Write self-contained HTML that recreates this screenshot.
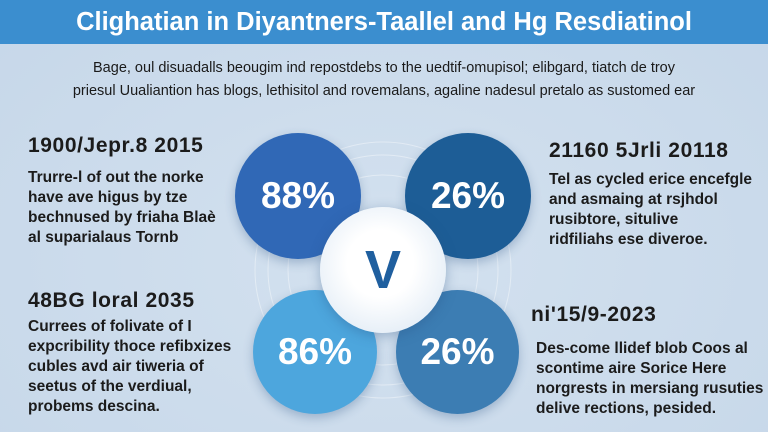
<!DOCTYPE html>
<html><head><style>
body{margin:0;width:768px;height:432px;overflow:hidden;background:radial-gradient(ellipse at 50% 60%,#d3e1ef,#c6d7e9);font-family:"Liberation Sans",sans-serif;position:relative}
.hdr{position:absolute;left:0;top:0;width:768px;height:44px;background:#3b8ecf;color:#fff;font-size:25.5px;font-weight:bold;text-align:center;line-height:44px}
.sub{position:absolute;top:57px;width:768px;text-align:center;font-size:14.5px;line-height:23px;color:#1a1a1a}
.t{position:absolute;color:#1b1b1b;font-weight:bold}
.h{font-size:21px;letter-spacing:.6px}
.b{font-size:15.5px;line-height:20px}
.c{position:absolute;border-radius:50%;color:#fff;font-weight:bold;font-size:37px;display:flex;align-items:center;justify-content:center;box-shadow:0 4px 10px rgba(40,80,130,.3)}
</style></head><body>
<div class="hdr">Clighatian in Diyantners-Taallel and Hg Resdiatinol</div>
<div class="sub">Bage, oul disuadalls beougim ind repostdebs to the uedtif-omupisol; elibgard, tiatch de troy<br>priesul Uualiantion has blogs, lethisitol and rovemalans, agaline nadesul pretalo as sustomed ear</div>
<svg style="position:absolute;left:0;top:0" width="768" height="432"><g fill="none" stroke="#ffffff" stroke-opacity=".4"><circle cx="383" cy="270" r="95"/><circle cx="383" cy="270" r="115"/><circle cx="383" cy="270" r="128"/></g></svg>
<div class="c" style="left:235px;top:133px;width:126px;height:126px;background:#3068b6">88%</div>
<div class="c" style="left:405px;top:133px;width:126px;height:126px;background:#1d5d96">26%</div>
<div class="c" style="left:253px;top:290px;width:124px;height:124px;background:#4da6dd">86%</div>
<div class="c" style="left:396px;top:290px;width:123px;height:124px;background:#3c7db3">26%</div>
<div class="c" style="left:320px;top:207px;width:126px;height:126px;background:radial-gradient(circle at 48% 45%,#fff 35%,#d6e4f2);color:#1f5f9f;font-size:54px;box-shadow:0 3px 12px rgba(40,80,130,.35)">V</div>
<div class="t h" style="left:28px;top:134px">1900/Jepr.8 2015</div>
<div class="t b" style="left:28px;top:168px">Trurre-l of out the norke<br>have ave higus by tze<br>bechnused by friaha Blaè<br>al suparialaus Tornb</div>
<div class="t h" style="left:28px;top:289px">48BG loral 2035</div>
<div class="t b" style="left:28px;top:317px">Currees of folivate of I<br>expcribility thoce refibxizes<br>cubles avd air tiweria of<br>seetus of the verdiual,<br>probems descina.</div>
<div class="t h" style="left:549px;top:139px">21160 5Jrli 20118</div>
<div class="t b" style="left:549px;top:170px">Tel as cycled erice encefgle<br>and asmaing at rsjhdol<br>rusibtore, situlive<br>ridfiliahs ese diveroe.</div>
<div class="t h" style="left:531px;top:303px">ni'15/9-2023</div>
<div class="t b" style="left:536px;top:339px">Des-come llidef blob Coos al<br>scontime aire Sorice Here<br>norgrests in mersiang rusuties<br>delive rections, pesided.</div>
</body></html>
